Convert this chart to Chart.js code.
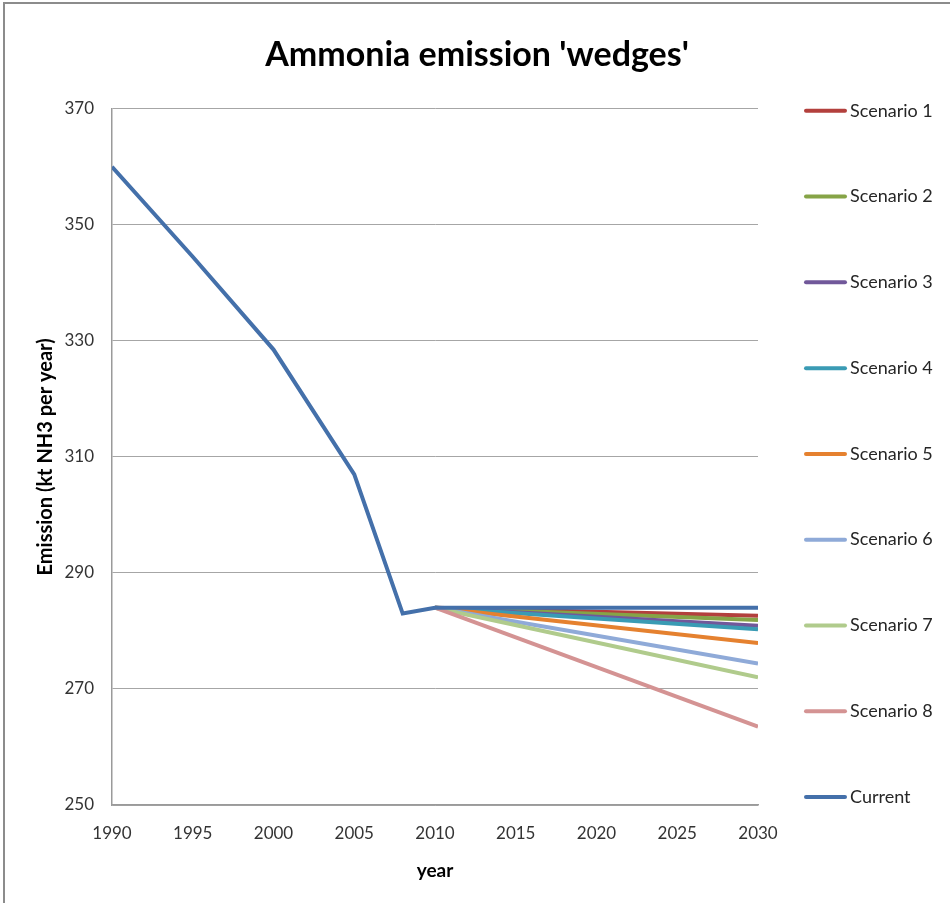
<!DOCTYPE html>
<html>
<head>
<meta charset="utf-8">
<script src="https://cdn.jsdelivr.net/npm/chart.js@4.4.0/dist/chart.umd.min.js"></script>
<style>
  html, body { margin: 0; padding: 0; background: #ffffff; }
  #wrap { width: 950px; height: 903px; position: relative; }
</style>
</head>
<body>
<div id="wrap"><canvas id="c" width="950" height="903"></canvas></div>
<script>
// ---- data ----
const historyYears   = [1990, 1995, 2000, 2005, 2008, 2010, 2030];
const currentValues  = [360, 344.5, 328.5, 307, 283, 284, 284];
const scenarioYears  = [2010, 2030];
const scenario1 = [284, 282.6];
const scenario2 = [284, 281.9];
const scenario3 = [284, 280.9];
const scenario4 = [284, 280.3];
const scenario5 = [284, 277.9];
const scenario6 = [284, 274.4];
const scenario7 = [284, 272.0];
const scenario8 = [284, 263.5];
const seriesNames  = ['Scenario 1','Scenario 2','Scenario 3','Scenario 4','Scenario 5','Scenario 6','Scenario 7','Scenario 8','Current'];
const seriesColors = ['#b3403d','#86a447','#71589a','#3a9bb4','#e5812f','#8faad8','#b0cb8c','#d49393','#4470aa'];
const xTicks = [1990, 1995, 2000, 2005, 2010, 2015, 2020, 2025, 2030];
const yTicks = [250, 270, 290, 310, 330, 350, 370];

const FONT = "Lato, 'Open Sans', sans-serif";

function pts(xs, ys) { return xs.map((x, i) => ({ x: x, y: ys[i] })); }
const scenarioData = [scenario1, scenario2, scenario3, scenario4, scenario5, scenario6, scenario7, scenario8];

const datasets = scenarioData.map((vals, i) => ({
  label: seriesNames[i],
  data: pts(scenarioYears, vals),
  borderColor: seriesColors[i],
  backgroundColor: seriesColors[i],
  borderWidth: 4,
  pointRadius: 0,
  tension: 0,
  order: 8 - i
}));
datasets.push({
  label: seriesNames[8],
  data: pts(historyYears, currentValues),
  borderColor: seriesColors[8],
  backgroundColor: seriesColors[8],
  borderWidth: 4,
  pointRadius: 0,
  tension: 0,
  order: 0
});

// custom legend (vertical, evenly spread) + frame lines
const sideLegend = {
  id: 'sideLegend',
  afterDraw(chart) {
    const ctx = chart.ctx;
    const ca = chart.chartArea;
    const ds = chart.data.datasets;
    const n = ds.length;
    const y0 = ca.top + 2, y1 = ca.bottom - 8;
    const step = (y1 - y0) / (n - 1);
    ctx.save();
    ctx.font = "18px " + FONT;
    ctx.textBaseline = 'middle';
    ctx.textAlign = 'left';
    ds.forEach((d, i) => {
      const y = y0 + step * i;
      ctx.strokeStyle = d.borderColor;
      ctx.lineWidth = 4;
      ctx.lineCap = 'round';
      ctx.beginPath();
      ctx.moveTo(806, y);
      ctx.lineTo(845, y);
      ctx.stroke();
      ctx.fillStyle = '#262626';
      ctx.fillText(d.label, 850, y);
    });
    // frame
    ctx.strokeStyle = '#8c8c8c';
    ctx.lineWidth = 2;
    ctx.lineCap = 'butt';
    ctx.beginPath();
    ctx.moveTo(4, 903);
    ctx.lineTo(4, 3);
    ctx.lineTo(950, 3);
    ctx.stroke();
    ctx.restore();
  }
};

new Chart(document.getElementById('c'), {
  type: 'line',
  data: { datasets: datasets },
  options: {
    responsive: false,
    animation: false,
    layout: { padding: { left: 4, right: 0, top: 4, bottom: 0 } },
    plugins: {
      legend: { display: false },
      tooltip: { enabled: false },
      title: {
        display: true,
        text: "Ammonia emission 'wedges'",
        color: '#000000',
        font: { family: FONT, size: 34, weight: 'bold' },
        padding: { top: 31, bottom: 33 }
      }
    },
    scales: {
      x: {
        type: 'linear',
        min: 1990, max: 2030,
        afterBuildTicks(s) { s.ticks = xTicks.map(v => ({ value: v })); },
        afterFit(s) { s.height = 98; },
        grid: { display: false, drawTicks: false },
        border: { display: true, color: '#9a9a9a', width: 1.5 },
        ticks: {
          color: '#333333',
          font: { family: FONT, size: 17 },
          padding: 18,
          maxRotation: 0,
          callback: v => String(v)
        },
        title: {
          display: true,
          text: 'year',
          color: '#000000',
          font: { family: FONT, size: 19, weight: 'bold' },
          padding: { top: 0, bottom: 21 }
        }
      },
      y: {
        type: 'linear',
        min: 250, max: 370,
        afterBuildTicks(s) { s.ticks = yTicks.map(v => ({ value: v })); },
        afterFit(s) { s.width = 108; },
        grid: { color: '#a6a6a6', lineWidth: 1, drawTicks: false },
        border: { display: true, color: '#9a9a9a', width: 1.5 },
        ticks: {
          color: '#333333',
          font: { family: FONT, size: 17 },
          padding: 18
        },
        title: {
          display: true,
          text: 'Emission (kt NH3 per year)',
          color: '#000000',
          font: { family: FONT, size: 20, weight: 'bold' },
          padding: { top: 30, bottom: 0 }
        }
      },
      yRight: {
        position: 'right',
        display: true,
        afterFit(s) { s.width = 192; },
        grid: { display: false, drawTicks: false },
        border: { display: false },
        ticks: { display: false },
        title: { display: false }
      }
    }
  },
  plugins: [sideLegend]
});
</script>
</body>
</html>
